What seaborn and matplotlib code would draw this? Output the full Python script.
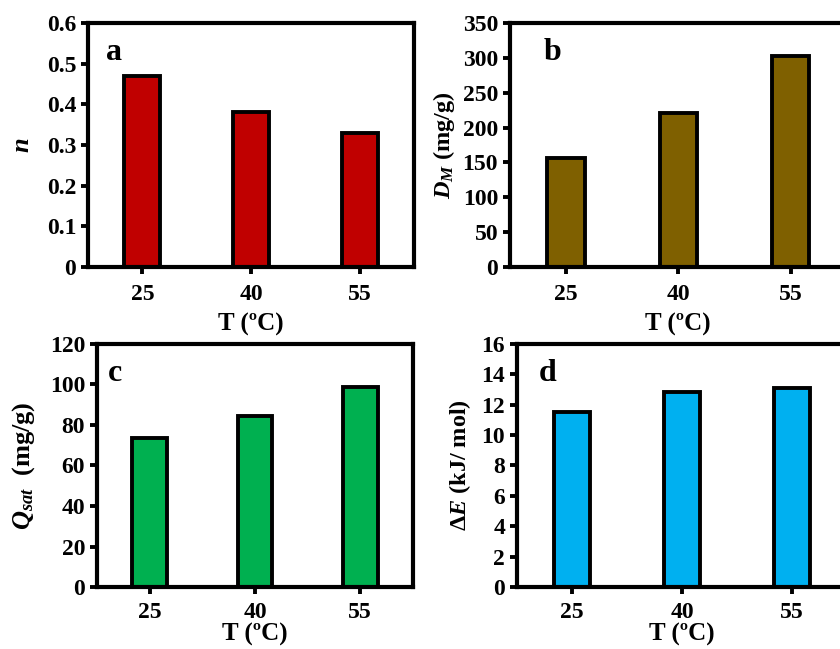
import matplotlib
matplotlib.use('Agg')
import matplotlib.pyplot as plt
import seaborn as sns
import pandas as pd

temps = ["25", "40", "55"]
n_vals = [0.47, 0.38, 0.33]
dm_vals = [157, 221, 303]
qsat_vals = [73.5, 84.5, 99]
de_vals = [11.5, 12.85, 13.1]

sns.set_style("ticks")
plt.rcParams['font.family'] = ['Liberation Serif', 'DejaVu Serif']
plt.rcParams['font.weight'] = 'bold'
plt.rcParams['mathtext.fontset'] = 'custom'
plt.rcParams['mathtext.rm'] = 'Liberation Serif:bold'
plt.rcParams['mathtext.it'] = 'Liberation Serif:italic:bold'
plt.rcParams['mathtext.bf'] = 'Liberation Serif:bold'
for k in ['text.color', 'axes.labelcolor', 'xtick.color', 'ytick.color']:
    plt.rcParams[k] = 'black'

fig = plt.figure(figsize=(8.4, 6.49), dpi=100)

panels = [
    # values, color, ylim, yticks, ylabel, letter, letter x, rect, ylabelsize, ylabelpad, xtickpad, xlabelpad
    (n_vals, "#C00000", 0.6, [0, 0.1, 0.2, 0.3, 0.4, 0.5, 0.6], r"$n$", "a", 0.055,
     [0.1048, 0.5886, 0.388, 0.376], 19, 9, 7, 6),
    (dm_vals, "#7F6000", 350, list(range(0, 351, 50)), r"$D_M$ (mg/g)", "b", 0.10,
     [0.607, 0.5886, 0.401, 0.376], 17.5, 4, 7, 6),
    (qsat_vals, "#00B050", 120, list(range(0, 121, 20)), r"$Q_{sat}$  (mg/g)", "c", 0.035,
     [0.1155, 0.0955, 0.376, 0.3745], 19, 9, 6, 0),
    (de_vals, "#00B0F0", 16, list(range(0, 17, 2)), r"$\Delta E$ (kJ/ mol)", "d", 0.066,
     [0.6155, 0.0955, 0.393, 0.3745], 17.5, 6, 6, 0),
]

for vals, color, ymax, yticks, ylabel, letter, lx, rect, ylsize, ylpad, xtpad, xlpad in panels:
    ax = fig.add_axes(rect)
    df = pd.DataFrame({"T": temps, "v": vals})
    sns.barplot(data=df, x="T", y="v", ax=ax, color=color, saturation=1,
                width=0.33, edgecolor="black", linewidth=2.8)
    ax.set_ylim(0, ymax)
    ax.set_xlim(-0.5, 2.5)
    ax.set_yticks(yticks)
    ax.set_yticklabels([f"{t:g}" for t in yticks])
    for s in ax.spines.values():
        s.set_visible(True)
        s.set_linewidth(3)
        s.set_color("black")
    ax.tick_params(axis='both', labelsize=17, width=2.8, length=5, color="black")
    ax.tick_params(axis='x', pad=xtpad)
    ax.set_xlabel("T (ºC)", fontsize=18, fontweight='bold', labelpad=xlpad)
    ax.set_ylabel(ylabel, fontsize=ylsize, fontweight='bold', labelpad=ylpad)
    ax.text(lx, 0.88, letter, transform=ax.transAxes, fontsize=23,
            fontweight='bold', va='center', ha='left')

fig.savefig("out.png", dpi=100, facecolor="white")
